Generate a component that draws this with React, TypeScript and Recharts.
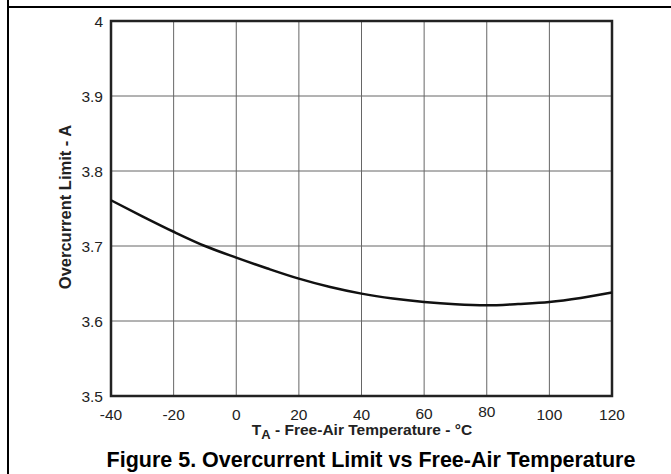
import {
  LineChart,
  Line,
  XAxis,
  YAxis,
  CartesianGrid,
  ReferenceArea,
} from "recharts";

const temps = [-40, -30, -20, -10, 0, 10, 20, 30, 40, 50, 60, 70, 80, 90, 100, 110, 120];
const limitA = [
  3.761, 3.7396, 3.719, 3.7, 3.6845, 3.67, 3.6565, 3.6453, 3.6365, 3.63, 3.6253,
  3.6222, 3.6209, 3.6227, 3.6253, 3.6307, 3.6379,
];
const xTicks = [-40, -20, 0, 20, 40, 60, 80, 100, 120];
const yTicks = [3.5, 3.6, 3.7, 3.8, 3.9, 4];

const data = temps.map((t, i) => ({ t, a: limitA[i] }));

const font = "'Liberation Sans', Arial, sans-serif";

// the 60 and 80 labels sit a little higher in the original
const tickLift: Record<number, number> = { 60: 1, 80: 3 };

function XTick({ x, y, payload }: any) {
  const lift = tickLift[payload.value] ?? 0;
  return (
    <text
      x={x}
      y={y + 23.5 - lift}
      textAnchor="middle"
      fontSize={15.5}
      fontFamily={font}
      fill="#222"
    >
      {payload.value}
    </text>
  );
}

function YTick({ x, y, payload }: any) {
  return (
    <text
      x={x}
      y={y}
      dy={5.5}
      textAnchor="end"
      fontSize={15.5}
      fontFamily={font}
      fill="#222"
    >
      {Number(payload.value.toFixed(1))}
    </text>
  );
}

export default function App() {
  return (
    <div
      style={{
        position: "absolute",
        left: 0,
        top: 0,
        width: 671,
        height: 474,
        background: "#fff",
        overflow: "hidden",
      }}
    >
      <div style={{ position: "absolute", left: 7, top: 0, width: 2, height: 474, background: "#000" }} />
      <div style={{ position: "absolute", left: 7, top: 6, width: 664, height: 2, background: "#000" }} />
      <LineChart
        width={671}
        height={474}
        data={data}
        margin={{ top: 21, right: 59, bottom: 48, left: 0 }}
        style={{ position: "absolute", left: 0, top: 0 }}
      >
        <CartesianGrid stroke="#666" strokeWidth={1} />
        <XAxis
          dataKey="t"
          type="number"
          domain={[-40, 120]}
          ticks={xTicks}
          height={30}
          axisLine={false}
          tickLine={false}
          tick={<XTick />}
          tickMargin={0}
          tickSize={0}
        />
        <YAxis
          type="number"
          domain={[3.5, 4]}
          ticks={yTicks}
          width={111}
          axisLine={false}
          tickLine={false}
          tick={<YTick />}
          tickSize={0}
          tickMargin={8}
        />
        <ReferenceArea
          x1={-40}
          x2={120}
          y1={3.5}
          y2={4}
          fill="none"
          stroke="#222"
          strokeWidth={2.5}
          ifOverflow="visible"
        />
        <Line
          dataKey="a"
          type="monotone"
          stroke="#111"
          strokeWidth={2.5}
          dot={false}
          isAnimationActive={false}
        />
      </LineChart>
      <svg
        width={671}
        height={474}
        style={{ position: "absolute", left: 0, top: 0, pointerEvents: "none" }}
      >
        <text
          x={67}
          y={207}
          transform="rotate(-90 67 207)"
          textAnchor="middle"
          dominantBaseline="middle"
          fontSize={16.5}
          fontWeight="bold"
          fontFamily={font}
          fill="#222"
        >
          Overcurrent Limit - A
        </text>
        <text
          x={362}
          y={435}
          textAnchor="middle"
          fontSize={15.5}
          fontWeight="bold"
          fontFamily={font}
          fill="#222"
        >
          T
          <tspan fontSize={13} dy={4}>A</tspan>
          <tspan dy={-4}> - Free-Air Temperature - °C</tspan>
        </text>
        <text
          x={371}
          y={467}
          textAnchor="middle"
          fontSize={21.5}
          fontWeight="bold"
          fontFamily={font}
          fill="#000"
        >
          Figure 5. Overcurrent Limit vs Free-Air Temperature
        </text>
      </svg>
    </div>
  );
}
